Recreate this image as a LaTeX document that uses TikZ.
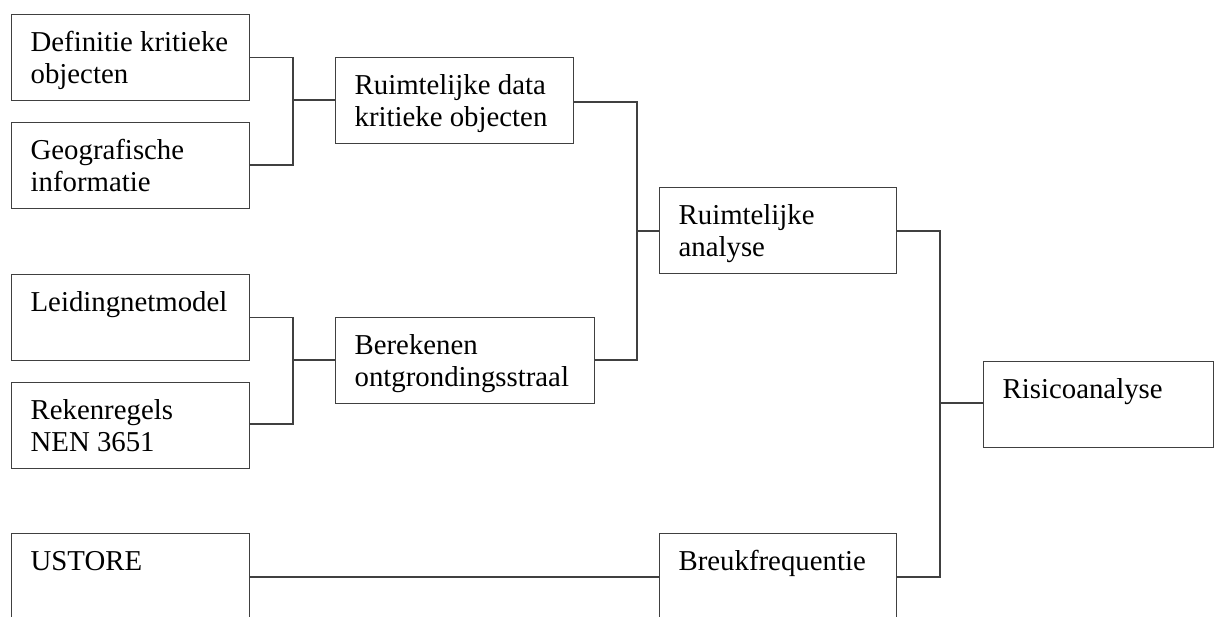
\documentclass[tikz,border=0pt]{standalone}
\usepackage{fontspec}
\setmainfont{Liberation Serif}
\newcommand\boxtxt[2]{\parbox[c][86pt][t]{#1pt}{\leftskip=19pt\rightskip=0pt plus 1fil\parindent=0pt\fontsize{28.8}{32.5}\selectfont\rule{0pt}{36.5pt}#2}}
\begin{document}
\begin{tikzpicture}[x=1pt,y=-1pt,
  blk/.style={draw=black!75,line width=1.3pt,inner sep=0pt,anchor=north west,fill=white},
  wire/.style={draw=black!75,line width=1.3pt}]
\useasboundingbox (0,0) rectangle (1215,616);
\clip (0,0) rectangle (1215,616);
\node[blk] (def) at (11,14) {\boxtxt{238}{Definitie kritieke\\objecten}};
\node[blk] (geo) at (11,122) {\boxtxt{238}{Geografische\\informatie}};
\node[blk] (lei) at (11,274) {\boxtxt{238}{Leidingnetmodel}};
\node[blk] (rek) at (11,382) {\boxtxt{238}{Rekenregels\\NEN 3651}};
\node[blk] (ust) at (11,533) {\boxtxt{238}{USTORE}};
\node[blk] (rdk) at (335,57) {\boxtxt{238}{Ruimtelijke data\\kritieke objecten}};
\node[blk] (ber) at (335,317) {\boxtxt{259}{Berekenen\\ontgrondingsstraal}};
\node[blk] (ran) at (659,187) {\boxtxt{237}{Ruimtelijke\\analyse}};
\node[blk] (bre) at (659,533) {\boxtxt{237}{Breukfrequentie}};
\node[blk] (ris) at (983,361) {\boxtxt{230}{Risicoanalyse}};
% connectors
\draw[wire] (def.east) -| (293,165) -- (geo.east |- 0,165);
\draw[wire] (293,100) -- (rdk.west |- 0,100);
\draw[wire] (lei.east) -| (293,424) -- (rek.east |- 0,424);
\draw[wire] (293,360) -- (ber.west |- 0,360);
\draw[wire] (rdk.east |- 0,102) -| (637,360) -- (ber.east |- 0,360);
\draw[wire] (637,231) -- (ran.west |- 0,231);
\draw[wire] (ran.east |- 0,231) -| (940,577) -- (bre.east |- 0,577);
\draw[wire] (940,403) -- (ris.west |- 0,403);
\draw[wire] (ust.east |- 0,577) -- (bre.west |- 0,577);
\end{tikzpicture}
\end{document}
